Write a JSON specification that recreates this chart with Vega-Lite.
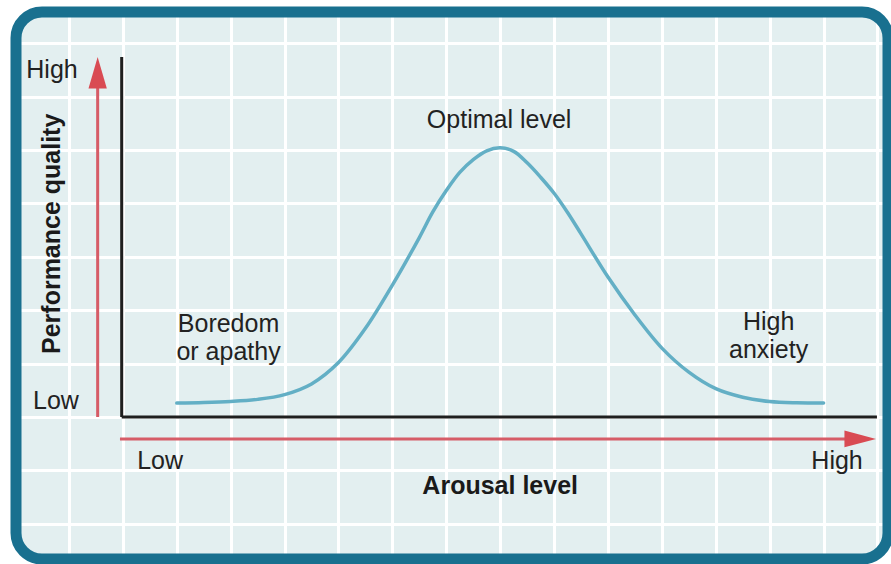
{
  "$schema": "https://vega.github.io/schema/vega-lite/v6.json",
  "width": 872,
  "height": 547,
  "autosize": {"type": "none"},
  "padding": {"left": 16, "top": 12, "right": 3, "bottom": 5},
  "background": "#ffffff",
  "config": {
    "view": {"fill": "#e3eff0", "stroke": null, "cornerRadius": 26}
  },
  "datasets": {
    "curve": [
      {"u": 2, "v": 0.26}, {"u": 2.5, "v": 0.27}, {"u": 3, "v": 0.29}, {"u": 3.5, "v": 0.33},
      {"u": 4, "v": 0.42}, {"u": 4.5, "v": 0.62}, {"u": 5, "v": 1.02}, {"u": 5.5, "v": 1.66},
      {"u": 6, "v": 2.47}, {"u": 6.5, "v": 3.36}, {"u": 6.75, "v": 3.84}, {"u": 7, "v": 4.24},
      {"u": 7.25, "v": 4.58}, {"u": 7.5, "v": 4.82}, {"u": 7.75, "v": 4.985}, {"u": 8, "v": 5.04},
      {"u": 8.25, "v": 4.975}, {"u": 8.5, "v": 4.76}, {"u": 8.75, "v": 4.49}, {"u": 9, "v": 4.19},
      {"u": 9.25, "v": 3.83}, {"u": 9.5, "v": 3.43}, {"u": 10, "v": 2.62}, {"u": 10.5, "v": 1.91},
      {"u": 11, "v": 1.29}, {"u": 11.5, "v": 0.84}, {"u": 12, "v": 0.53}, {"u": 12.5, "v": 0.37},
      {"u": 13, "v": 0.29}, {"u": 13.5, "v": 0.265}, {"u": 14, "v": 0.26}
    ],
    "axes": [
      {"u": 0.978, "v": 0, "u2": 0.978, "v2": 6.74},
      {"u": 0.978, "v": 0, "u2": 14.99, "v2": 0}
    ],
    "arrows": [
      {"u": 0.532, "v": 0, "u2": 0.532, "v2": 6.2},
      {"u": 0.946, "v": -0.41, "u2": 14.4, "v2": -0.41}
    ],
    "heads": [
      {"u": 0.532, "v": 6.446, "dir": "up"},
      {"u": 14.68, "v": -0.41, "dir": "right"}
    ],
    "labels": [
      {"u": -0.315, "v": 6.35, "label": "High"},
      {"u": -0.241, "v": 0.144, "label": "Low"},
      {"u": 1.69, "v": -0.98, "label": "Low"},
      {"u": 14.25, "v": -0.98, "label": "High"},
      {"u": 7.98, "v": 5.41, "label": "Optimal level"},
      {"u": 2.96, "v": 1.59, "label": "Boredom\nor apathy"},
      {"u": 12.98, "v": 1.63, "label": "High\nanxiety"}
    ],
    "xtitle": [{"u": 8.0, "v": -1.45, "label": "Arousal level"}],
    "ytitle": [{"u": -0.167, "v": 3.43, "label": "Performance quality"}]
  },
  "encoding": {
    "x": {
      "field": "u", "type": "quantitative",
      "scale": {"domain": [-0.983, 15.195], "nice": false, "zero": false},
      "axis": {"values": [0,1,2,3,4,5,6,7,8,9,10,11,12,13,14,15], "grid": true, "gridColor": "#ffffff", "gridWidth": 3, "gridOpacity": 1, "labels": false, "ticks": false, "domain": false, "title": null}
    },
    "y": {
      "field": "v", "type": "quantitative",
      "scale": {"domain": [-2.659, 7.584], "nice": false, "zero": false},
      "axis": {"values": [-2,-1,0,1,2,3,4,5,6,7], "grid": true, "gridColor": "#ffffff", "gridWidth": 3, "gridOpacity": 1, "labels": false, "ticks": false, "domain": false, "title": null}
    }
  },
  "layer": [
    {
      "data": {"name": "axes"},
      "mark": {"type": "rule", "color": "#1f1f1f", "strokeWidth": 3},
      "encoding": {"x2": {"field": "u2"}, "y2": {"field": "v2"}}
    },
    {
      "data": {"name": "arrows"},
      "mark": {"type": "rule", "color": "#d65c67", "strokeWidth": 3},
      "encoding": {"x2": {"field": "u2"}, "y2": {"field": "v2"}}
    },
    {
      "data": {"name": "heads"},
      "mark": {"type": "point", "filled": true, "opacity": 1, "color": "#d94b53", "size": 1000, "strokeWidth": 0},
      "encoding": {
        "shape": {"field": "dir", "type": "nominal", "scale": {"domain": ["up", "right"], "range": ["M0,-1L0.58,1L-0.58,1Z", "M1,0L-1,-0.53L-1,0.53Z"]}, "legend": null}
      }
    },
    {
      "data": {"name": "curve"},
      "mark": {"type": "line", "interpolate": "catmull-rom", "color": "#63afc5", "strokeWidth": 3.5, "strokeCap": "round"}
    },
    {
      "data": {"name": "labels"},
      "mark": {"type": "text", "align": "center", "baseline": "alphabetic", "font": "Liberation Sans", "fontSize": 25, "color": "#222222", "lineBreak": "\n", "lineHeight": 28},
      "encoding": {"text": {"field": "label", "type": "nominal"}}
    },
    {
      "data": {"name": "xtitle"},
      "mark": {"type": "text", "align": "center", "baseline": "alphabetic", "font": "Liberation Sans", "fontSize": 25, "fontWeight": "bold", "color": "#1a1a1a"},
      "encoding": {"text": {"field": "label", "type": "nominal"}}
    },
    {
      "data": {"name": "ytitle"},
      "mark": {"type": "text", "align": "center", "baseline": "alphabetic", "angle": 270, "font": "Liberation Sans", "fontSize": 25, "fontWeight": "bold", "color": "#1a1a1a"},
      "encoding": {"text": {"field": "label", "type": "nominal"}}
    },
    {
      "data": {"values": [{}]},
      "mark": {"type": "rect", "fill": "transparent", "stroke": "#19708f", "strokeWidth": 11, "cornerRadius": 26},
      "encoding": {
        "x": {"value": 0}, "x2": {"value": "width"},
        "y": {"value": 0}, "y2": {"value": "height"}
      }
    }
  ]
}
